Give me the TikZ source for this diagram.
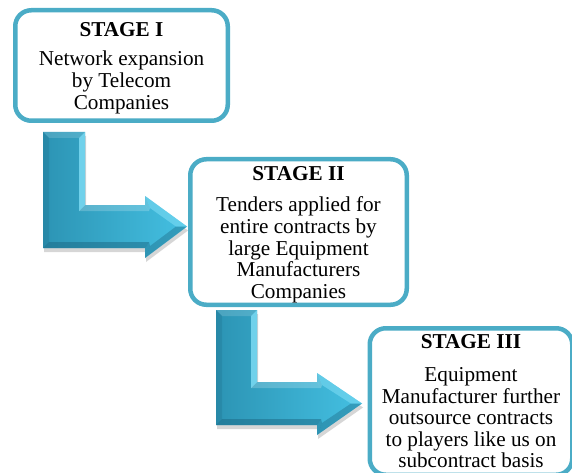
\documentclass[tikz,border=0pt]{standalone}
\usepackage{fontspec}
\setmainfont{Liberation Serif}
\usetikzlibrary{calc}

\definecolor{stageline}{RGB}{75,172,198}
\definecolor{arrowdark}{RGB}{44,148,180}
\definecolor{arrowlight}{RGB}{68,192,226}
\definecolor{bevelhi}{RGB}{128,222,246}
\definecolor{bevellow}{RGB}{28,104,132}

% Bent (L-shaped) block arrow with a bevelled edge.
% #1 left x, #2 right x of the stem, #3 top y, #4/#5 top/bottom y of the bar,
% #6 x of the head base, #7/#8 top/bottom y of the head, #9 tip x
\newcommand\lbentarrow[9]{%
  \coordinate (A) at (#1,#3);
  \coordinate (B) at (#2,#3);
  \coordinate (C) at (#2,#4);
  \coordinate (D) at (#6,#4);
  \coordinate (E) at (#6,#7);
  \coordinate (F) at (#9,{(#4+#5)/2});
  \coordinate (G) at (#6,#8);
  \coordinate (H) at (#6,#5);
  \coordinate (I) at (#1,#5);
  \coordinate (Ai) at (#1+6,#3+6);
  \coordinate (Bi) at (#2-6,#3+6);
  \coordinate (Ci) at (#2-6,#4+6);
  \coordinate (Di) at (#6+4,#4+6);
  \coordinate (Ei) at (#6+5,#7+12);
  \coordinate (Fi) at (#9-11,{(#4+#5)/2});
  \coordinate (Gi) at (#6+5,#8-12);
  \coordinate (Hi) at (#6+4,#5-6);
  \coordinate (Ii) at (#1+6,#5-6);
  % soft drop shadow
  \fill[black,opacity=.16] (#1+1,#3+4) -- (#2+1,#3+4) -- (#2+1,#4+4) -- (#6+1,#4+4)
    -- (#6+1,#7+4) -- (#9+1,{(#4+#5)/2+4}) -- (#6+1,#8+4) -- (#6+1,#5+4)
    -- (#1+1,#5+4) -- cycle;
  % body
  \shade[left color=arrowdark, right color=arrowlight]
    (A) -- (B) -- (C) -- (D) -- (E) -- (F) -- (G) -- (H) -- (I) -- cycle;
  % bevel faces
  \fill[white,opacity=.15]     (A) -- (B) -- (Bi) -- (Ai) -- cycle;
  \fill[bevelhi,opacity=.8]    (B) -- (C) -- (Ci) -- (Bi) -- cycle;
  \fill[white,opacity=.2]      (C) -- (D) -- (Di) -- (Ci) -- cycle;
  \fill[white,opacity=.2]      (D) -- (E) -- (Ei) -- (Di) -- cycle;
  \fill[bevelhi,opacity=.55]   (E) -- (F) -- (Fi) -- (Ei) -- cycle;
  \fill[bevellow,opacity=.4]   (F) -- (G) -- (Gi) -- (Fi) -- cycle;
  \fill[bevellow,opacity=.4]   (G) -- (H) -- (Hi) -- (Gi) -- cycle;
  \fill[bevellow,opacity=.5]   (H) -- (I) -- (Ii) -- (Hi) -- cycle;
  \fill[bevellow,opacity=.25]  (I) -- (A) -- (Ai) -- (Ii) -- cycle;
}

\begin{document}
\begin{tikzpicture}[x=1pt, y=-1pt,
  stagebox/.style={draw=stageline, line width=4.5pt, rounded corners=16pt,
    fill=white, inner sep=0pt},
  stagetext/.style={align=center, inner sep=0pt,
    font=\fontsize{21.2}{21.6}\selectfont}]
\useasboundingbox (0,0) rectangle (572,473);
\clip (0,0) rectangle (572,473);

% connecting arrows
\lbentarrow{43}{85}{132}{205}{248}{145}{196}{258}{187}
\lbentarrow{216}{257}{310}{382}{425}{317}{373}{435}{362}

% stage boxes
\node[stagebox, minimum width=212.5pt, minimum height=110.5pt] (stage1) at (121.5,65.5) {};
\node[stagebox, minimum width=216.5pt, minimum height=145.5pt] (stage2) at (298.5,232) {};
\node[stagebox, minimum width=202.5pt, minimum height=146.5pt] (stage3) at (471,401.5) {};

% box contents
\node[stagetext] (stage1text) at ($(stage1.center)+(0,2.5)$)
  {\textbf{STAGE I}\\[8pt]Network expansion\\by Telecom\\Companies};
\node[stagetext] (stage2text) at ($(stage2.center)+(0,2.5)$)
  {\textbf{STAGE II}\\[10pt]Tenders applied for\\entire contracts by\\large Equipment\\Manufacturers\\Companies};
\node[stagetext] (stage3text) at (stage3.center)
  {\textbf{STAGE III}\\[11pt]Equipment\\Manufacturer further\\outsource contracts\\to players like us on\\subcontract basis};
\end{tikzpicture}
\end{document}
